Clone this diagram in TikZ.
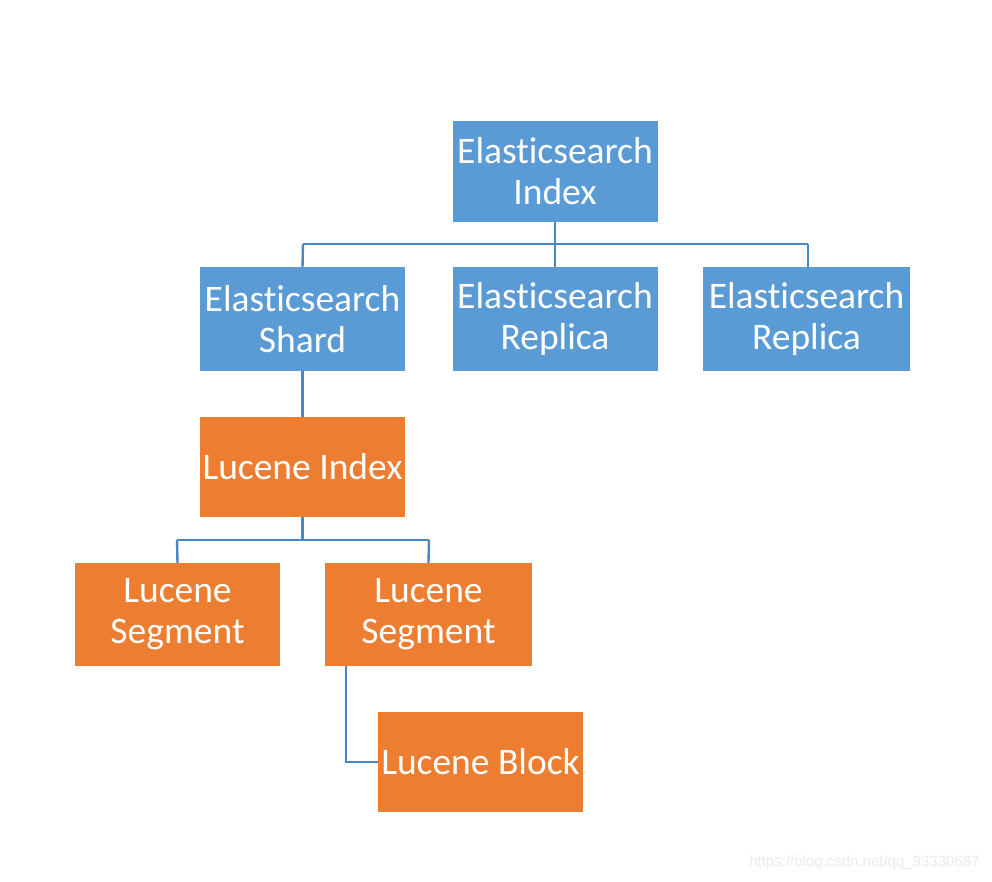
\documentclass[tikz,border=0pt]{standalone}
\usepackage{fontspec}
\setmainfont[Ligatures=NoCommon]{Carlito}
\newfontfamily\wmfont{Liberation Sans}
\definecolor{esblue}{HTML}{5B9BD5}
\definecolor{luorange}{HTML}{ED7D31}
\definecolor{linkblue}{HTML}{4A86C0}
\begin{document}
\begin{tikzpicture}[x=1pt,y=-1pt,
  box/.style={draw=none, minimum width=205pt, minimum height=101pt, inner sep=0pt,
    text=white, align=center, font=\fontsize{37.5}{41}\selectfont},
  esbox/.style={box, fill=esblue},
  lubox/.style={box, fill=luorange},
  link/.style={draw=linkblue, line width=2.4pt}]
\useasboundingbox (0,0) rectangle (992,882);
\fill[white] (0,0) rectangle (992,882);
\node[esbox] (ei) at (555,171.5) {Elasticsearch\\Index};
\node[esbox, minimum height=104pt] (sh) at (302.5,319) {Elasticsearch\\Shard};
\node[esbox, minimum height=104pt] (r1) at (555,319) {Elasticsearch\\Replica};
\node[esbox, minimum height=104pt, minimum width=207pt] (r2) at (806.5,319) {Elasticsearch\\Replica};
\node[lubox, minimum height=100pt] (li) at (302.5,467) {Lucene Index};
\node[lubox, minimum height=103pt] (s1) at (177.5,614.5) {Lucene\\Segment};
\node[lubox, minimum height=103pt, minimum width=207pt] (s2) at (428.5,614.5) {Lucene\\Segment};
\node[lubox, minimum height=100pt] (lb) at (480.5,762) {Lucene Block};
\draw[link] (ei.south) -- ++(0,22) coordinate (bar1);
\draw[link] ([xshift=-252pt]bar1) coordinate (bl) -- ([xshift=253pt]bar1) coordinate (br);
\draw[link] (bar1) -- (r1.north);
\draw[link] (bl) -- (sh.north);
\draw[link] (br) -- ([xshift=1.5pt]r2.north);
\draw[link] (sh.south) -- (li.north);
\draw[link] (li.south) -- ++(0,23) coordinate (bar2);
\draw[link] ([xshift=-125.5pt]bar2) coordinate (cl) -- ([xshift=126.5pt]bar2) coordinate (cr);
\draw[link] (cl) -- (s1.north);
\draw[link] (cr) -- (s2.north);
\draw[link] ([xshift=-82.5pt]s2.south) |- (lb.west);
\node[text=black!8, font=\wmfont\fontsize{15}{17}\selectfont, anchor=east] (wm) at (983,863) {https://blog.csdn.net/qq\_33330687};
\end{tikzpicture}
\end{document}
